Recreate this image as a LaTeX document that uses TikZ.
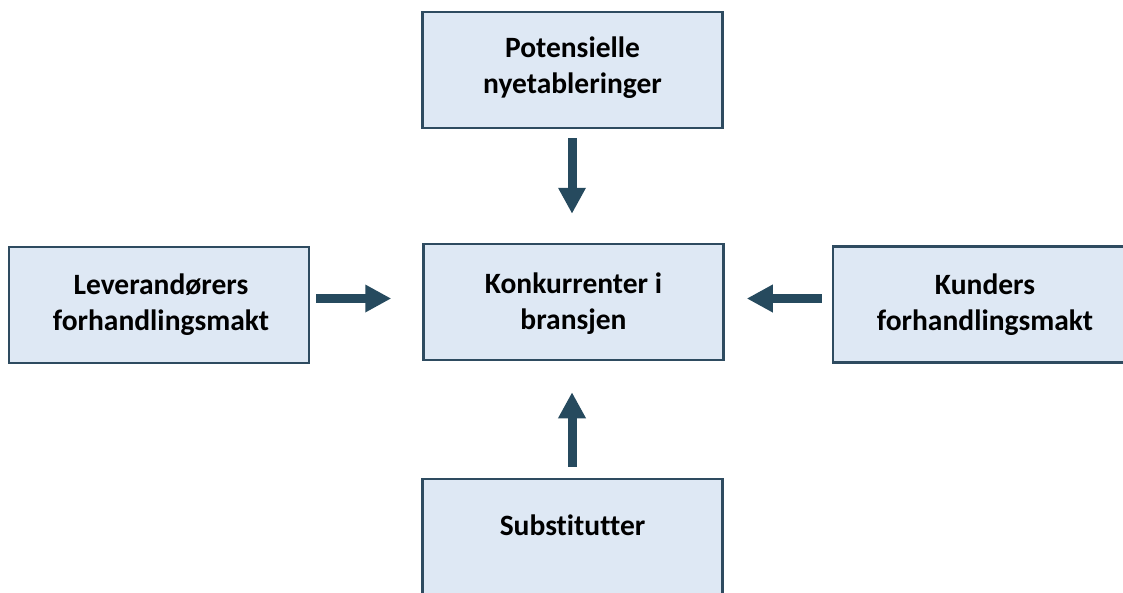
\documentclass[tikz,border=0pt]{standalone}
\usepackage{fontspec}
\setmainfont{Carlito}[Ligatures=NoCommon]
\usetikzlibrary{arrows.meta}
\definecolor{boxfill}{HTML}{DEE8F4}
\definecolor{boxline}{HTML}{2E4B60}
\definecolor{arrcol}{HTML}{264A5E}
\begin{document}
\begin{tikzpicture}[x=1pt,y=-1pt,
  box/.style={draw=boxline, fill=boxfill, line width=2.5pt, minimum width=300pt, minimum height=116pt, inner sep=0pt},
  lbl/.style={align=center, font=\fontsize{29.5}{36}\selectfont\bfseries, text=black},
  fat/.style={draw=arrcol, line width=9pt, -{Triangle[length=26pt,width=26pt]}}]
\useasboundingbox (0,0) rectangle (1123,592);
\clip (0,0) rectangle (1123,592);
\node[box] (top) at (572.5,70) {};
\node[lbl] (toptxt) at (572.5,68) {Potensielle\\nyetableringer};
\node[box] (mid) at (573.5,302) {};
\node[lbl] (midtxt) at (573.5,304) {Konkurrenter i\\bransjen};
\node[box] (left) at (159,305) {};
\node[lbl] (lefttxt) at (161,305) {Leverandørers\\forhandlingsmakt};
\node[box] (right) at (983,304.5) {};
\node[lbl] (righttxt) at (985,304.5) {Kunders\\forhandlingsmakt};
\node[box] (bot) at (572.5,537) {};
\node[lbl] (bottxt) at (572.5,525) {Substitutter};
\coordinate (hmid) at (0,298.5);
\coordinate (vmid) at (572,0);
\draw[fat, shorten <=9pt, shorten >=29pt] (top.south -| vmid) -- (mid.north -| vmid);
\draw[fat, shorten <=6pt, shorten >=31pt] (left.east |- hmid) -- (mid.west |- hmid);
\draw[fat, shorten <=10pt, shorten >=22pt] (right.west |- hmid) -- (mid.east |- hmid);
\draw[fat, shorten <=11pt, shorten >=31pt] (bot.north -| vmid) -- (mid.south -| vmid);
\end{tikzpicture}
\end{document}
